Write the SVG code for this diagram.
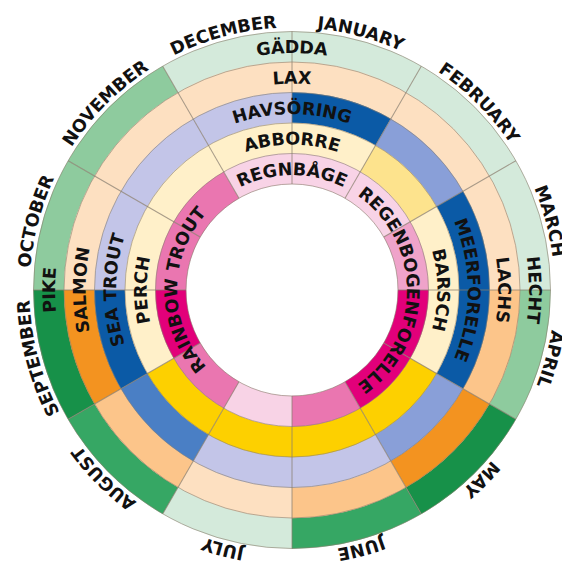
<svg xmlns="http://www.w3.org/2000/svg" xmlns:xlink="http://www.w3.org/1999/xlink" width="562" height="565" viewBox="0 0 562 565">
<style>
.arc{fill:none;stroke-width:30.8}
.gl{stroke:#d4eadb}.gm{stroke:#8ecb9e}.gg{stroke:#36a764}.gd{stroke:#179149}
.pl{stroke:#fde0c1}.pm{stroke:#fcc58a}.po{stroke:#f39320}
.bl{stroke:#c3c5e8}.bm{stroke:#899fd8}.ba{stroke:#4a7fc5}.bd{stroke:#0b5aa6}
.yl{stroke:#fff0c9}.ym{stroke:#fde38d}.yy{stroke:#fdd000}
.kl{stroke:#f8d3e6}.kn{stroke:#efa3ca}.km{stroke:#ea76b0}.kd{stroke:#e2007a}
.div line{stroke:#8a7e6e;stroke-width:1;stroke-opacity:0.75}
.div circle{fill:none;stroke:#8a7e6e;stroke-width:1;stroke-opacity:0.6}
.lbl{font-family:"DejaVu Sans","Liberation Sans",sans-serif;font-weight:bold;font-size:17.5px;fill:#111}
.mon{font-family:"DejaVu Sans","Liberation Sans",sans-serif;font-weight:bold;font-size:17.5px;fill:#111}
</style>
<defs>
<path id="a1" class="arc" d="M292,168.75 A121.25,121.25 0 0 1 352.625,184.994"/>
<path id="a2" class="arc" d="M292,138.25 A151.75,151.75 0 0 1 367.875,158.582"/>
<path id="a3" class="arc" d="M292,107.75 A182.25,182.25 0 0 1 383.125,132.167"/>
<path id="a4" class="arc" d="M292,77.25 A212.75,212.75 0 0 1 398.375,105.753"/>
<path id="a5" class="arc" d="M292,46.75 A243.25,243.25 0 0 1 413.625,79.339"/>
<path id="pm" d="M292,552.5 A262.5,262.5 0 1 1 292,27.5 A262.5,262.5 0 1 1 292,552.5"/>
<path id="p5" d="M292,526.85 A236.85,236.85 0 1 1 292,53.15 A236.85,236.85 0 1 1 292,526.85"/>
<path id="p4" d="M292,496.35 A206.35,206.35 0 1 1 292,83.65 A206.35,206.35 0 1 1 292,496.35"/>
<path id="p3" d="M292,465.85 A175.85,175.85 0 1 1 292,114.15 A175.85,175.85 0 1 1 292,465.85"/>
<path id="p2" d="M292,435.35 A145.35,145.35 0 1 1 292,144.65 A145.35,145.35 0 1 1 292,435.35"/>
<path id="p1" d="M292,404.85 A114.85,114.85 0 1 1 292,175.15 A114.85,114.85 0 1 1 292,404.85"/>
</defs>
<rect width="562" height="565" fill="#fff"/>
<g id="ring-pike">
<use href="#a5" class="gl"/>
<use href="#a5" class="gl" transform="rotate(30 292 290)"/>
<use href="#a5" class="gl" transform="rotate(60 292 290)"/>
<use href="#a5" class="gm" transform="rotate(90 292 290)"/>
<use href="#a5" class="gd" transform="rotate(120 292 290)"/>
<use href="#a5" class="gg" transform="rotate(150 292 290)"/>
<use href="#a5" class="gl" transform="rotate(180 292 290)"/>
<use href="#a5" class="gg" transform="rotate(210 292 290)"/>
<use href="#a5" class="gd" transform="rotate(240 292 290)"/>
<use href="#a5" class="gm" transform="rotate(270 292 290)"/>
<use href="#a5" class="gm" transform="rotate(300 292 290)"/>
<use href="#a5" class="gl" transform="rotate(330 292 290)"/>
</g>
<g id="ring-salmon">
<use href="#a4" class="pl"/>
<use href="#a4" class="pl" transform="rotate(30 292 290)"/>
<use href="#a4" class="pl" transform="rotate(60 292 290)"/>
<use href="#a4" class="pm" transform="rotate(90 292 290)"/>
<use href="#a4" class="po" transform="rotate(120 292 290)"/>
<use href="#a4" class="pm" transform="rotate(150 292 290)"/>
<use href="#a4" class="pl" transform="rotate(180 292 290)"/>
<use href="#a4" class="pm" transform="rotate(210 292 290)"/>
<use href="#a4" class="po" transform="rotate(240 292 290)"/>
<use href="#a4" class="pl" transform="rotate(270 292 290)"/>
<use href="#a4" class="pl" transform="rotate(300 292 290)"/>
<use href="#a4" class="pl" transform="rotate(330 292 290)"/>
</g>
<g id="ring-seatrout">
<use href="#a3" class="bd"/>
<use href="#a3" class="bm" transform="rotate(30 292 290)"/>
<use href="#a3" class="bd" transform="rotate(60 292 290)"/>
<use href="#a3" class="bd" transform="rotate(90 292 290)"/>
<use href="#a3" class="bm" transform="rotate(120 292 290)"/>
<use href="#a3" class="bl" transform="rotate(150 292 290)"/>
<use href="#a3" class="bl" transform="rotate(180 292 290)"/>
<use href="#a3" class="ba" transform="rotate(210 292 290)"/>
<use href="#a3" class="bd" transform="rotate(240 292 290)"/>
<use href="#a3" class="bl" transform="rotate(270 292 290)"/>
<use href="#a3" class="bl" transform="rotate(300 292 290)"/>
<use href="#a3" class="bl" transform="rotate(330 292 290)"/>
</g>
<g id="ring-perch">
<use href="#a2" class="yl"/>
<use href="#a2" class="ym" transform="rotate(30 292 290)"/>
<use href="#a2" class="yl" transform="rotate(60 292 290)"/>
<use href="#a2" class="yl" transform="rotate(90 292 290)"/>
<use href="#a2" class="yy" transform="rotate(120 292 290)"/>
<use href="#a2" class="yy" transform="rotate(150 292 290)"/>
<use href="#a2" class="yy" transform="rotate(180 292 290)"/>
<use href="#a2" class="yy" transform="rotate(210 292 290)"/>
<use href="#a2" class="yl" transform="rotate(240 292 290)"/>
<use href="#a2" class="yl" transform="rotate(270 292 290)"/>
<use href="#a2" class="yl" transform="rotate(300 292 290)"/>
<use href="#a2" class="yl" transform="rotate(330 292 290)"/>
</g>
<g id="ring-rainbow">
<use href="#a1" class="kl"/>
<use href="#a1" class="kl" transform="rotate(30 292 290)"/>
<use href="#a1" class="kn" transform="rotate(60 292 290)"/>
<use href="#a1" class="kd" transform="rotate(90 292 290)"/>
<use href="#a1" class="kd" transform="rotate(120 292 290)"/>
<use href="#a1" class="km" transform="rotate(150 292 290)"/>
<use href="#a1" class="kl" transform="rotate(180 292 290)"/>
<use href="#a1" class="km" transform="rotate(210 292 290)"/>
<use href="#a1" class="kd" transform="rotate(240 292 290)"/>
<use href="#a1" class="km" transform="rotate(270 292 290)"/>
<use href="#a1" class="km" transform="rotate(300 292 290)"/>
<use href="#a1" class="kl" transform="rotate(330 292 290)"/>
</g>
<g id="dividers" class="div">
<circle cx="292" cy="290" r="106"/>
<circle cx="292" cy="290" r="136.5"/>
<circle cx="292" cy="290" r="167"/>
<circle cx="292" cy="290" r="197.5"/>
<circle cx="292" cy="290" r="228"/>
<circle cx="292" cy="290" r="258.5"/>
<line x1="292" y1="184" x2="292" y2="31.5"/>
<line x1="292" y1="184" x2="292" y2="31.5" transform="rotate(30 292 290)"/>
<line x1="292" y1="184" x2="292" y2="31.5" transform="rotate(60 292 290)"/>
<line x1="292" y1="184" x2="292" y2="31.5" transform="rotate(90 292 290)"/>
<line x1="292" y1="184" x2="292" y2="31.5" transform="rotate(120 292 290)"/>
<line x1="292" y1="184" x2="292" y2="31.5" transform="rotate(150 292 290)"/>
<line x1="292" y1="184" x2="292" y2="31.5" transform="rotate(180 292 290)"/>
<line x1="292" y1="184" x2="292" y2="31.5" transform="rotate(210 292 290)"/>
<line x1="292" y1="184" x2="292" y2="31.5" transform="rotate(240 292 290)"/>
<line x1="292" y1="184" x2="292" y2="31.5" transform="rotate(270 292 290)"/>
<line x1="292" y1="184" x2="292" y2="31.5" transform="rotate(300 292 290)"/>
<line x1="292" y1="184" x2="292" y2="31.5" transform="rotate(330 292 290)"/>
</g>
<g id="fish-labels" class="lbl" text-anchor="middle">
<text><textPath href="#p5" startOffset="50%">GÄDDA</textPath></text>
<text><textPath href="#p4" startOffset="50%">LAX</textPath></text>
<text><textPath href="#p3" startOffset="50%">HAVSÖRING</textPath></text>
<text><textPath href="#p2" startOffset="50%">ABBORRE</textPath></text>
<text><textPath href="#p1" startOffset="50%">REGNBÅGE</textPath></text>
<text><textPath href="#p5" startOffset="25%">PIKE</textPath></text>
<text><textPath href="#p4" startOffset="25%">SALMON</textPath></text>
<text><textPath href="#p3" startOffset="25%">SEA TROUT</textPath></text>
<text><textPath href="#p2" startOffset="25%">PERCH</textPath></text>
<text><textPath href="#p1" startOffset="25%">RAINBOW TROUT</textPath></text>
<text><textPath href="#p5" startOffset="75%">HECHT</textPath></text>
<text><textPath href="#p4" startOffset="75%">LACHS</textPath></text>
<text><textPath href="#p3" startOffset="75%">MEERFORELLE</textPath></text>
<text><textPath href="#p2" startOffset="75%">BARSCH</textPath></text>
<text><textPath href="#p1" startOffset="75%">REGENBOGENFORELLE</textPath></text>
</g>
<g id="months" class="mon" text-anchor="middle">
<text><textPath href="#pm" startOffset="54.167%">JANUARY</textPath></text>
<text><textPath href="#pm" startOffset="62.5%">FEBRUARY</textPath></text>
<text><textPath href="#pm" startOffset="70.833%">MARCH</textPath></text>
<text><textPath href="#pm" startOffset="79.167%">APRIL</textPath></text>
<text><textPath href="#pm" startOffset="87.5%">MAY</textPath></text>
<text><textPath href="#pm" startOffset="95.833%">JUNE</textPath></text>
<text><textPath href="#pm" startOffset="4.167%">JULY</textPath></text>
<text><textPath href="#pm" startOffset="12.5%">AUGUST</textPath></text>
<text><textPath href="#pm" startOffset="20.833%">SEPTEMBER</textPath></text>
<text><textPath href="#pm" startOffset="29.167%">OCTOBER</textPath></text>
<text><textPath href="#pm" startOffset="37.5%">NOVEMBER</textPath></text>
<text><textPath href="#pm" startOffset="45.833%">DECEMBER</textPath></text>
</g>
</svg>
